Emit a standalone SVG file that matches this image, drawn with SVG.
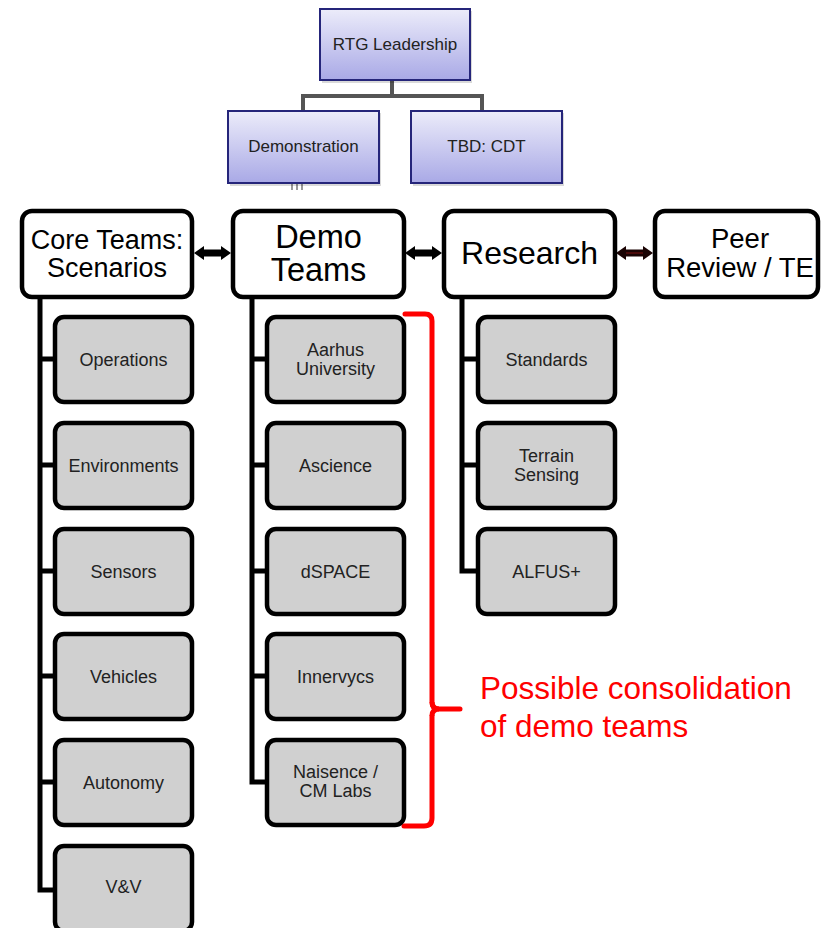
<svg xmlns="http://www.w3.org/2000/svg" width="821" height="928" viewBox="0 0 821 928">
<defs>
<linearGradient id="lav" x1="0" y1="0" x2="0" y2="1">
<stop offset="0" stop-color="#ececfa"/>
<stop offset="1" stop-color="#a9a9e6"/>
</linearGradient>
<style>
.top{fill:url(#lav);stroke:#25257a;stroke-width:2}
.shadow{fill:#000;opacity:0.15}
.main{fill:#fff;stroke:#000;stroke-width:4.5}
.child{fill:#d0d0d0;stroke:#000;stroke-width:4.5}
.t{font-family:"Liberation Sans",Arial,sans-serif;text-anchor:middle;fill:#222}
.ts{font-size:17px}
.tc{font-size:18px}
.tm{font-family:"Liberation Sans",Arial,sans-serif;text-anchor:middle;fill:#000}
.trunk{fill:none;stroke:#000;stroke-width:5}
.gray{fill:none;stroke:#555;stroke-width:4}
.red{font-family:"Liberation Sans",Arial,sans-serif;font-size:31.5px;fill:#ff0000}
</style>
</defs>
<rect width="821" height="928" fill="#fff"/>

<g id="connectors">
<path class="gray" d="M392,80 V96 M303,111 V96 H482 V111"/>
<path d="M292,184 V190 M297,184 V190 M302,184 V190" stroke="#999" stroke-width="2"/>
<polygon fill="#000" points="194,253 204,246 204,249.5 221,249.5 221,246 231,253 221,260 221,256.5 204,256.5 204,260"/>
<polygon fill="#000" points="405,253 415,246 415,249.5 432,249.5 432,246 442,253 432,260 432,256.5 415,256.5 415,260"/>
<polygon fill="#1a0303" points="616,253 626,246 626,249.5 643,249.5 643,246 653,253 643,260 643,256.5 626,256.5 626,260"/>
<line x1="626" y1="253" x2="643" y2="253" stroke="#7a1010" stroke-width="1"/>
<path class="trunk" d="M40,297 V890 H55 M40,359 H55 M40,465 H55 M40,571 H55 M40,676 H55 M40,782 H55"/>
<path class="trunk" d="M252,297 V782 H266 M252,359 H266 M252,465 H266 M252,571 H266 M252,676 H266"/>
<path class="trunk" d="M462,297 V571 H478 M462,359 H478 M462,465 H478"/>
<path d="M405,314 H425 Q432,314 432,321 V702 Q432,709 439,709 H460 M432,716 V818 Q432,826 424,826 H404" fill="none" stroke="#ff0000" stroke-width="5" stroke-linecap="round"/>
<path d="M432,702 Q432,709 439,709 Q432,709 432,716" fill="none" stroke="#ff0000" stroke-width="5"/>
</g>

<g id="rtg">
<rect class="shadow" x="322" y="11" width="150" height="72"/>
<rect class="top" x="320" y="9" width="150" height="71"/>
<text class="t ts" x="395" y="50">RTG Leadership</text>
</g>
<g id="demonstration">
<rect class="shadow" x="230" y="113" width="151" height="73"/>
<rect class="top" x="228" y="111" width="151" height="72"/>
<text class="t ts" x="303.5" y="152">Demonstration</text>
</g>
<g id="tbd">
<rect class="shadow" x="413" y="113" width="151" height="73"/>
<rect class="top" x="411" y="111" width="151" height="72"/>
<text class="t ts" x="486.5" y="152">TBD: CDT</text>
</g>

<g id="core">
<rect class="main" x="22" y="211" width="170" height="86" rx="10"/>
<text class="tm" font-size="27" x="107" y="249">Core Teams:</text>
<text class="tm" font-size="27" x="107" y="277">Scenarios</text>
</g>
<g id="demo">
<rect class="main" x="233" y="211" width="171" height="86" rx="10"/>
<text class="tm" font-size="32.5" x="318.5" y="248">Demo</text>
<text class="tm" font-size="32.5" x="318.5" y="281">Teams</text>
</g>
<g id="research">
<rect class="main" x="444" y="211" width="171" height="86" rx="10"/>
<text class="tm" font-size="32" x="529.5" y="264">Research</text>
</g>
<g id="peer">
<rect class="main" x="655" y="211" width="163" height="86" rx="10"/>
<text class="tm" font-size="27.5" x="740" y="248">Peer</text>
<text class="tm" font-size="27.5" x="740" y="277">Review / TE</text>
</g>

<g id="operations"><rect class="child" x="55" y="317" width="137" height="85" rx="9"/><text class="t tc" x="123.5" y="366">Operations</text></g>
<g id="environments"><rect class="child" x="55" y="423" width="137" height="85" rx="9"/><text class="t tc" x="123.5" y="472">Environments</text></g>
<g id="sensors"><rect class="child" x="55" y="529" width="137" height="85" rx="9"/><text class="t tc" x="123.5" y="578">Sensors</text></g>
<g id="vehicles"><rect class="child" x="55" y="634" width="137" height="85" rx="9"/><text class="t tc" x="123.5" y="683">Vehicles</text></g>
<g id="autonomy"><rect class="child" x="55" y="740" width="137" height="85" rx="9"/><text class="t tc" x="123.5" y="789">Autonomy</text></g>
<g id="vv"><rect class="child" x="55" y="846" width="137" height="85" rx="9"/><text class="t tc" x="123.5" y="893">V&amp;V</text></g>

<g id="aarhus"><rect class="child" x="267" y="317" width="137" height="85" rx="9"/><text class="t tc" x="335.5" y="356">Aarhus</text><text class="t tc" x="335.5" y="375">University</text></g>
<g id="ascience"><rect class="child" x="267" y="423" width="137" height="85" rx="9"/><text class="t tc" x="335.5" y="472">Ascience</text></g>
<g id="dspace"><rect class="child" x="267" y="529" width="137" height="85" rx="9"/><text class="t tc" x="335.5" y="578">dSPACE</text></g>
<g id="innervycs"><rect class="child" x="267" y="634" width="137" height="85" rx="9"/><text class="t tc" x="335.5" y="683">Innervycs</text></g>
<g id="naisence"><rect class="child" x="267" y="740" width="137" height="85" rx="9"/><text class="t tc" x="335.5" y="778">Naisence /</text><text class="t tc" x="335.5" y="797">CM Labs</text></g>

<g id="standards"><rect class="child" x="478" y="317" width="137" height="85" rx="9"/><text class="t tc" x="546.5" y="366">Standards</text></g>
<g id="terrain"><rect class="child" x="478" y="423" width="137" height="85" rx="9"/><text class="t tc" x="546.5" y="462">Terrain</text><text class="t tc" x="546.5" y="481">Sensing</text></g>
<g id="alfus"><rect class="child" x="478" y="529" width="137" height="85" rx="9"/><text class="t tc" x="546.5" y="578">ALFUS+</text></g>

<g id="note">
<text class="red" x="480" y="699">Possible consolidation</text>
<text class="red" x="480" y="737">of demo teams</text>
</g>
</svg>
